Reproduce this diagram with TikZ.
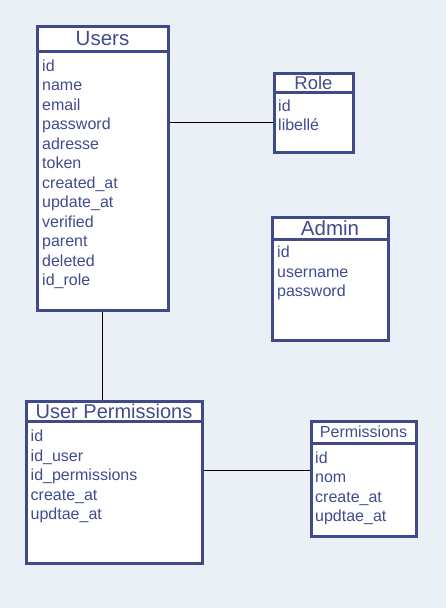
\documentclass[tikz,border=0pt]{standalone}
\usepackage{fontspec}
\setmainfont{Liberation Sans}
\usepackage{tikz}
\definecolor{bgblue}{rgb}{0.92, 0.94, 0.97}
\definecolor{boxblue}{rgb}{0.25, 0.29, 0.54}
\definecolor{textblue}{rgb}{0.25, 0.30, 0.56}

\begin{document}
\begin{tikzpicture}[x=1pt, y=-1pt,
  head/.style={rectangle, draw=boxblue, line width=3pt, fill=white, inner sep=0pt,
    outer sep=0pt, anchor=north west, text=textblue, font=\fontsize{20.5}{24}\selectfont},
  body/.style={rectangle, draw=boxblue, line width=3pt, fill=white, inner sep=0pt,
    outer sep=0pt, anchor=north west},
  fields/.style={align=left, inner sep=0pt, anchor=north west, text=textblue,
    font=\fontsize{16}{19.5}\selectfont},
  link/.style={line width=0.8pt, black, shorten <=1.5pt, shorten >=1.5pt}]
\fill[bgblue] (0,0) rectangle (446,608);
%\draw [very thin, gray] (0,0) grid[step=20] (446,608);

% tables
\node[head, minimum width=131, minimum height=25] (userstitle) at (37,26) {Users};
\node[body, minimum width=131, minimum height=259] (usersbody) at (userstitle.south west) {};
\node[fields] (usersfields) at (42,59.4) {id\\name\\email\\password\\adresse\\token\\created\_at\\update\_at\\verified\\parent\\deleted\\id\_role};

\node[head, minimum width=79, minimum height=19, font=\fontsize{18.5}{20}\selectfont] (roletitle) at (274,73) {Role};
\node[body, minimum width=79, minimum height=60] (rolebody) at (roletitle.south west) {};
\node[fields] (rolefields) at (278,99.6) {id\\libellé};

\node[head, minimum width=116, minimum height=22] (admintitle) at (272,217) {Admin};
\node[body, minimum width=116, minimum height=101] (adminbody) at (admintitle.south west) {};
\node[fields] (adminfields) at (277,246.2) {id\\username\\password};

\node[head, minimum width=176, minimum height=20, font=\fontsize{20}{24}\selectfont] (uptitle) at (26,401) {User Permissions};
\node[body, minimum width=176, minimum height=142] (upbody) at (uptitle.south west) {};
\node[fields] (upfields) at (30.5,430) {id\\id\_user\\id\_permissions\\create\_at\\updtae\_at};

\node[head, minimum width=105, minimum height=22, font=\fontsize{16}{18}\selectfont] (permstitle) at (311,421) {Permissions};
\node[body, minimum width=105, minimum height=93] (permsbody) at (permstitle.south west) {};
\node[fields] (permsfields) at (315,451.2) {id\\nom\\create\_at\\updtae\_at};

% links
\coordinate (uplink) at (0,470);
\draw[link] (rolebody.west) -- (rolebody.west -| usersbody.east);
\draw[link] (usersbody.south) -- (usersbody.south |- uptitle.north);
\draw[link] (upbody.east |- uplink) -- (permsbody.west |- uplink);
\end{tikzpicture}
\end{document}
